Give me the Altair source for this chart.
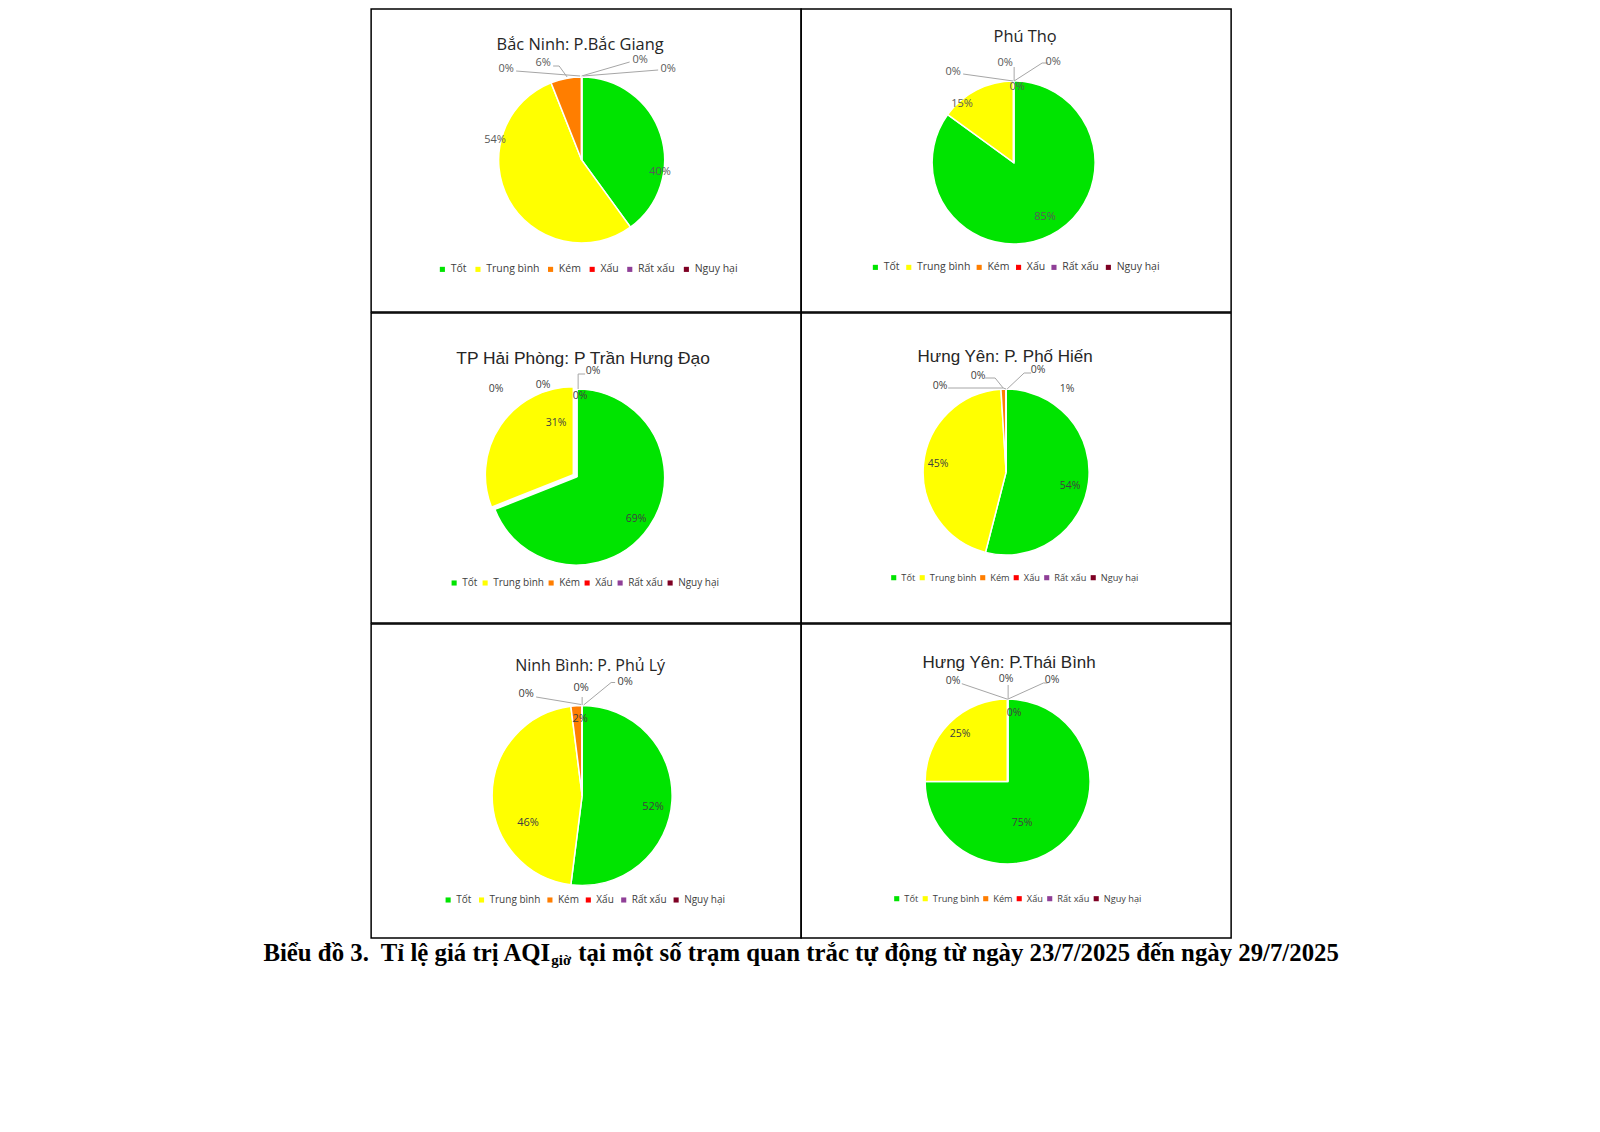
import altair as alt
import pandas as pd

# ---------------- data ----------------
categories = ["Tốt", "Trung bình", "Kém", "Xấu", "Rất xấu", "Nguy hại"]
colors = ["#00E400", "#FFFF00", "#FF7E00", "#FF0000", "#8F3F97", "#7E0023"]

stations = [
    "Bắc Ninh: P.Bắc Giang",
    "Phú Thọ",
    "TP Hải Phòng: P Trần Hưng Đạo",
    "Hưng Yên: P. Phố Hiến",
    "Ninh Bình: P. Phủ Lý",
    "Hưng Yên: P.Thái Bình",
]

pct_bac_giang = [40, 54, 6, 0, 0, 0]
pct_phu_tho = [85, 15, 0, 0, 0, 0]
pct_tran_hung_dao = [69, 31, 0, 0, 0, 0]
pct_pho_hien = [54, 45, 1, 0, 0, 0]
pct_phu_ly = [52, 46, 2, 0, 0, 0]
pct_thai_binh = [75, 25, 0, 0, 0, 0]

percent_values = [pct_bac_giang, pct_phu_tho, pct_tran_hung_dao,
                  pct_pho_hien, pct_phu_ly, pct_thai_binh]

caption_parts = [
    "Biểu đồ 3.\u00a0 Tỉ lệ giá trị AQI",
    "giờ",
    "tại một số trạm quan trắc tự động từ ngày 23/7/2025 đến ngày 29/7/2025",
]

# ---------------- layout (positions / styles) ----------------
CAL = "Open Sans"
ARIAL = "Liberation Sans"

panel_layout = [
    dict(w=430, h=303, cx=210.5, cy=151, r=83, tx=209, ty=36, tfont=CAL, tsize=16.4,
         lsize=11, lcolor="#595959",
         labels=[(78.5, 12), (-86.5, -20), (-38.5, -97), (-75.5, -91), (58.5, -100), (86.5, -91)],
         leaders=[[(-65.5, -89), (-1.5, -84)], [(-28.5, -94), (-22.5, -94), (-14.5, -83)],
                  [(0, -84), (48, -98)], [(1.5, -84), (76.5, -90)]],
         legx=66, legy=255, legsize=10.5, legpad=5.6),
    dict(w=430, h=303, cx=212.5, cy=153.5, r=81.5, tx=224, ty=28, tfont=CAL, tsize=16.4,
         lsize=11, lcolor="#595959",
         labels=[(31.5, 54.5), (-51.5, -58.5), (3.5, -75.5), (-60.5, -90.5), (-8.5, -99.5), (39.5, -100.5)],
         leaders=[[(-50.5, -88.5), (-0.5, -81.5)], [(0.5, -95.5), (0.5, -81.5)],
                  [(0.5, -81.5), (28.5, -99.5), (34.5, -99.5)]],
         legx=69, legy=253, legsize=10.5, legpad=3.4),
    dict(w=430, h=310, cx=205.5, cy=164, r=88, tx=212, ty=46, tfont=ARIAL, tsize=17.4,
         lsize=10.5, lcolor="#404040",
         labels=[(59.5, 42), (-20.5, -54), (3.5, -81), (-80.5, -88), (-33.5, -92), (16.5, -106)],
         leaders=[[(1.5, -88), (1.5, -103), (8.5, -103)]],
         legx=78, legy=265, legsize=10, legpad=2,
         explode=dict(cat="Trung bình", dx=-3.3, dy=-2.2)),
    dict(w=430, h=310, cx=205, cy=159, r=83, tx=204, ty=44, tfont=ARIAL, tsize=17,
         lsize=10.5, lcolor="#404040",
         labels=[(64, 14), (-68, -8), (61, -83), (-66, -86), (-28, -96), (32, -102)],
         leaders=[[(-58, -84), (-3, -84), (0, -83)], [(-21, -94), (-11, -94), (-3, -84)],
                  [(1, -83), (18, -99), (25, -99)]],
         legx=88, legy=260, legsize=9.2, legpad=1.5),
    dict(w=430, h=314, cx=211, cy=171.5, r=90, tx=219, ty=42, tfont=CAL, tsize=16,
         lsize=11, lcolor="#404040",
         labels=[(71, 11.5), (-54, 27.5), (-2, -76.5), (-56, -101.5), (-1, -107.5), (43, -113.5)],
         leaders=[[(-46, -98.5), (-1, -91)], [(0, -98.5), (0, -90.5)],
                  [(1.5, -90.5), (29, -113), (33, -113)]],
         legx=72, legy=271, legsize=10, legpad=4.4),
    dict(w=430, h=314, cx=206.5, cy=157.5, r=82.5, tx=208, ty=39, tfont=ARIAL, tsize=17,
         lsize=10.5, lcolor="#404040",
         labels=[(14.5, 41.5), (-47.5, -47.5), (6.5, -68.5), (-54.5, -100.5), (-1.5, -102.5), (44.5, -101.5)],
         leaders=[[(-45.8, -97.8), (0.2, -82.2)], [(0.5, -96.5), (0.5, -82.5)],
                  [(0.5, -82.5), (35.8, -98.5), (40, -98.5)]],
         legx=91, legy=270, legsize=9.2, legpad=1.5),
]


def make_panel(i):
    L = panel_layout[i]
    vals = percent_values[i]
    cx, cy, r = L["cx"], L["cy"], L["r"]
    df = pd.DataFrame({"cat": categories, "value": vals, "idx": list(range(len(categories)))})

    color = alt.Color(
        "cat:N",
        scale=alt.Scale(domain=categories, range=colors),
        legend=alt.Legend(
            title=None, orient="none", legendX=L["legx"], legendY=L["legy"],
            direction="horizontal", symbolType="square", symbolSize=26,
            symbolStrokeWidth=0, labelFont=CAL, labelFontSize=L["legsize"],
            labelColor="#404040", columnPadding=L["legpad"], labelOffset=3, padding=0,
        ),
    )
    theta = alt.Theta("value:Q", stack=True, scale=alt.Scale(domain=[0, 100]))
    order = alt.Order("idx:Q", sort="ascending")

    layers = []
    ex = L.get("explode")
    if ex:
        is_ex = alt.datum.cat == ex["cat"]
        layers.append(
            alt.Chart(df).mark_arc(x=cx, y=cy, outerRadius=r, stroke="white", strokeWidth=1.5)
            .encode(theta=theta, color=color, order=order,
                    opacity=alt.condition(is_ex, alt.value(0), alt.value(1)))
        )
        layers.append(
            alt.Chart(df).mark_arc(x=cx + ex["dx"], y=cy + ex["dy"], outerRadius=r,
                                   stroke="white", strokeWidth=1.5)
            .encode(theta=theta, color=color, order=order,
                    opacity=alt.condition(is_ex, alt.value(1), alt.value(0)))
        )
    else:
        layers.append(
            alt.Chart(df).mark_arc(x=cx, y=cy, outerRadius=r, stroke="white", strokeWidth=1.5)
            .encode(theta=theta, color=color, order=order)
        )

    # leader lines
    rows = []
    for s, seg in enumerate(L["leaders"]):
        for k, (dx, dy) in enumerate(seg):
            rows.append({"seg": s, "ord": k, "px": cx + dx, "py": cy + dy})
    layers.append(
        alt.Chart(pd.DataFrame(rows)).mark_line(color="#A6A6A6", strokeWidth=1)
        .encode(x=alt.X("px:Q", scale=None, axis=None),
                y=alt.Y("py:Q", scale=None, axis=None),
                detail="seg:N", order="ord:Q")
    )

    # data labels
    lab = pd.DataFrame({
        "cat": categories,
        "label": [f"{v}%" for v in vals],
        "lx": [cx + dx for dx, dy in L["labels"]],
        "ly": [cy + dy for dx, dy in L["labels"]],
    })
    layers.append(
        alt.Chart(lab).mark_text(font=CAL, fontSize=L["lsize"], color=L["lcolor"],
                                 align="center", baseline="middle")
        .encode(x=alt.X("lx:Q", scale=None, axis=None),
                y=alt.Y("ly:Q", scale=None, axis=None),
                text="label:N")
    )

    # panel title
    layers.append(
        alt.Chart(pd.DataFrame({"t": [stations[i]]}))
        .mark_text(x=L["tx"], y=L["ty"], font=L["tfont"], fontSize=L["tsize"],
                   color="#262626", align="center", baseline="middle")
        .encode(text="t:N")
    )
    return alt.layer(*layers).properties(width=L["w"], height=L["h"])


def make_row(a, b):
    return (alt.hconcat(make_panel(a), make_panel(b), spacing=0, bounds="flush")
            .resolve_scale(color="independent")
            .resolve_legend(color="independent"))


SERIF = "Liberation Serif"
CAP_W = 1100          # caption strip is wider than the grid and centred under it
cap_base = 22
cap_split = 299       # end of "AQI" inside the caption strip
CAP_SIZE = 24.8
caption = alt.layer(
    alt.Chart(pd.DataFrame({"t": [caption_parts[0]]}))
    .mark_text(x=cap_split, y=cap_base, align="right", baseline="alphabetic", font=SERIF,
               fontWeight="bold", fontSize=CAP_SIZE, color="black")
    .encode(text="t:N"),
    alt.Chart(pd.DataFrame({"t": [caption_parts[1]]}))
    .mark_text(x=cap_split + 1, y=cap_base + 4, align="left", baseline="alphabetic", font=SERIF,
               fontWeight="bold", fontSize=15, color="black")
    .encode(text="t:N"),
    alt.Chart(pd.DataFrame({"t": [caption_parts[2]]}))
    .mark_text(x=cap_split + 28, y=cap_base, align="left", baseline="alphabetic", font=SERIF,
               fontWeight="bold", fontSize=CAP_SIZE, color="black")
    .encode(text="t:N"),
).properties(width=CAP_W, height=36, view=alt.ViewBackground(stroke="transparent"))

chart = (
    alt.vconcat(make_row(0, 1), make_row(2, 3), make_row(4, 5), caption,
                spacing=-1.5, center=True)
    .resolve_scale(color="independent")
    .resolve_legend(color="independent")
    .properties(padding={"left": 242, "top": 0, "right": 5, "bottom": 5},
                background="white")
    .configure_view(stroke="black", strokeWidth=1.5)
)

chart.save("out.html", embed_options={"renderer": "svg", "actions": False})
